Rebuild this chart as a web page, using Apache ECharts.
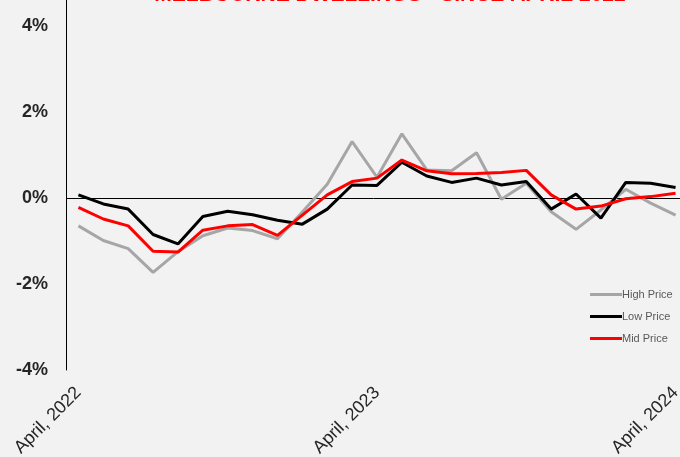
<!DOCTYPE html>
<html><head><meta charset="utf-8">
<script src="https://cdn.jsdelivr.net/npm/echarts@6/dist/echarts.min.js"></script>
<style>html,body{margin:0;padding:0;background:#f2f2f2}#c{width:680px;height:457px}</style>
</head><body><div id="c"></div>
<script>
const months = ['April','May','June','July','August','September','October','November','December','January','February','March'];
const categories = [];
for (let i = 0; i < 25; i++) {
  const m = months[i % 12];
  const y = 2022 + Math.floor((i + 3) / 12);
  categories.push(m + ', ' + y);
}
const highPrice = [-0.65,-0.99,-1.18,-1.73,-1.25,-0.88,-0.70,-0.76,-0.95,-0.33,0.32,1.31,0.48,1.49,0.65,0.63,1.05,-0.03,0.34,-0.32,-0.73,-0.28,0.20,-0.12,-0.40];
const lowPrice  = [0.07,-0.14,-0.26,-0.85,-1.07,-0.43,-0.31,-0.39,-0.52,-0.61,-0.26,0.30,0.29,0.83,0.51,0.36,0.46,0.30,0.38,-0.26,0.09,-0.47,0.36,0.34,0.24];
const midPrice  = [-0.22,-0.49,-0.65,-1.24,-1.26,-0.75,-0.65,-0.62,-0.87,-0.40,0.07,0.38,0.46,0.88,0.63,0.56,0.57,0.59,0.64,0.07,-0.26,-0.19,-0.02,0.03,0.11];
const yTicks = [-4,-2,0,2,4];
const titleText = 'MELBOURNE DWELLINGS - SINCE APRIL 2022';

const chart = echarts.init(document.getElementById('c'), null, {renderer:'canvas'});
const lineS = (name, data, color) => ({
  name, type:'line', data, symbol:'none', smooth:false,
  lineStyle:{color, width:3}, itemStyle:{color}, z: 3
});
chart.setOption({
  backgroundColor:'#f2f2f2',
  animation:false,
  graphic:[{
    type:'text', x:390, y:6, z:10,
    style:{text:titleText, fill:'#ff0000', align:'center', verticalAlign:'bottom',
      font:'bold 21px "Liberation Sans"'}
  }],
  grid:{left:66, right:-8, top:0, bottom:87, containLabel:false, outerBoundsMode:'none'},
  legend:{
    orient:'vertical', left:590, top:289, itemGap:11, padding:0,
    itemWidth:32, itemHeight:3, icon:'rect',
    textStyle:{color:'#595959', fontSize:11, fontFamily:'Liberation Sans', padding:[0,0,0,-5]},
    data:['High Price','Low Price','Mid Price']
  },
  xAxis:{
    type:'category', data:categories, boundaryGap:true,
    axisLine:{show:false}, axisTick:{show:false},
    axisLabel:{
      interval:function(i){return i % 12 === 0;},
      rotate:45, margin:20, color:'#262626', fontSize:18, fontFamily:'Liberation Sans'
    }
  },
  yAxis:{
    type:'value', min:-4, max:4.6, interval:2,
    axisLine:{show:true, lineStyle:{color:'#000', width:1}},
    axisTick:{show:false}, splitLine:{show:false},
    axisLabel:{
      showMaxLabel:false, margin:18, color:'#262626', fontSize:18, fontWeight:'bold', fontFamily:'Liberation Sans',
      formatter:function(v){return yTicks.indexOf(v) >= 0 ? v + '%' : '';}
    }
  },
  series:[
    Object.assign(lineS('High Price', highPrice, '#a6a6a6'), {
      markLine:{silent:true, symbol:'none', label:{show:false},
        lineStyle:{color:'#000', width:1, type:'solid'}, data:[{yAxis:0}], z:1}
    }),
    lineS('Low Price', lowPrice, '#000000'),
    lineS('Mid Price', midPrice, '#ff0000')
  ]
});
</script></body></html>
